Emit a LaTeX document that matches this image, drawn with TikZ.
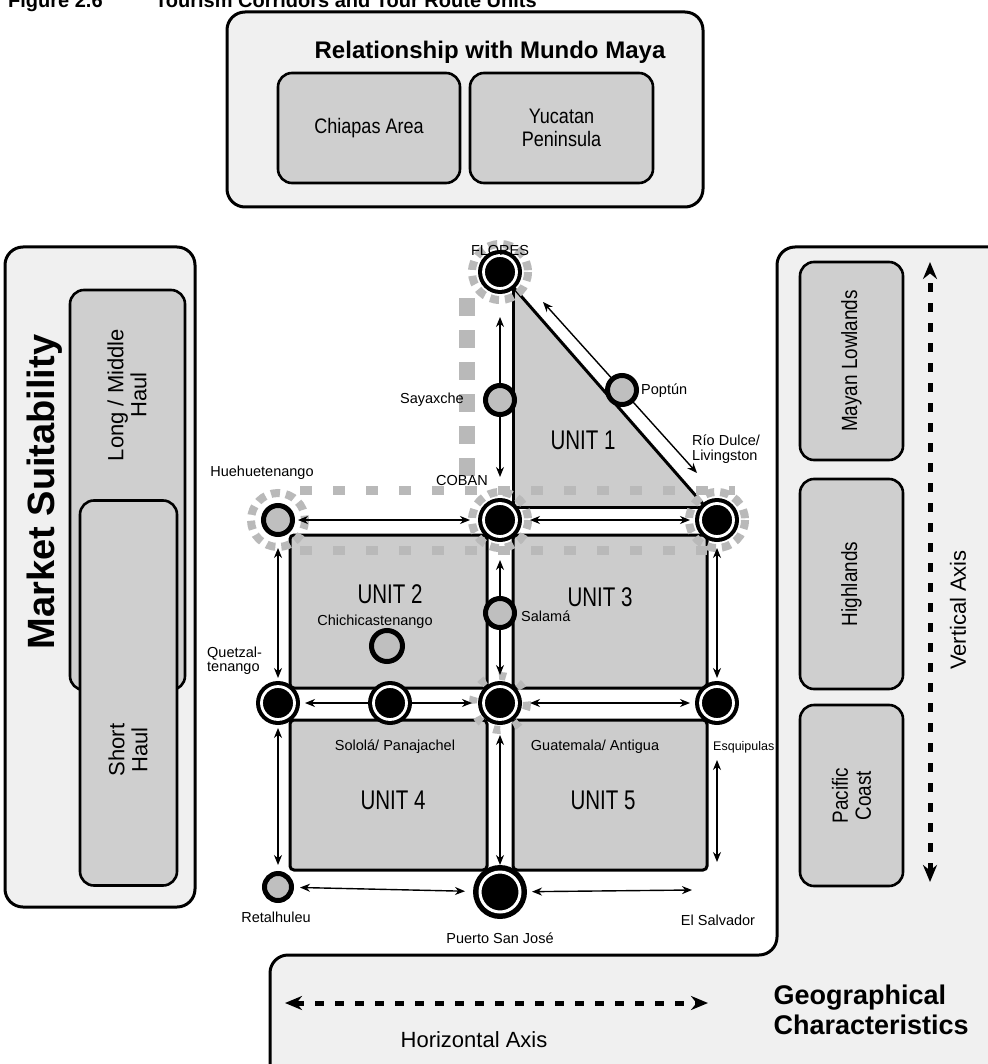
\documentclass[tikz,border=0pt]{standalone}
\usepackage{fontspec}
\setmainfont{Liberation Sans}[FakeStretch=0.86]
\newfontfamily\plainsans{Liberation Sans}
\newfontfamily\unitsans{Liberation Sans}[FakeStretch=0.76]
\usetikzlibrary{arrows.meta}
\newcommand\fsz[2]{\fontsize{#1}{#2}\selectfont}
\begin{document}
\begin{tikzpicture}[x=1pt,y=-1pt,
 panel/.style={draw=black,line width=3,rounded corners=18,fill=gray!12},
 inbox/.style={draw=black,line width=2.6,rounded corners=14,fill=gray!38,inner sep=0},
 road/.style={line width=1.4,{Stealth[length=10,width=8]}-{Stealth[length=10,width=8]}},
 axisarrow/.style={line width=5,dash pattern=on 9 off 11,{Stealth[length=17,width=14]}-{Stealth[length=17,width=14]}},
 bignode/.style={circle,fill=black,minimum size=44,inner sep=0,
   path picture={\draw[white,line width=2.8] (path picture bounding box.center) circle (16.5);}},
 midnode/.style={circle,fill=gray!50,draw=black,line width=5,minimum size=29,inner sep=0},
 halo/.style={gray!55,line width=8,dash pattern=on 9 off 6},
 sqrow/.style={gray!55,line width=9,dash pattern=on 12 off 21},
 sqcol/.style={gray!55,line width=16,dash pattern=on 18 off 14},
 lbl/.style={font=\plainsans\fsz{14.5}{15},inner sep=1},
 unitlbl/.style={font=\unitsans\fsz{27}{28},inner sep=0},
 bord/.style={line width=3},
]
\useasboundingbox (0,0) rectangle (987,1064);
\fill[white] (0,0) rectangle (987,1064);

% caption (cut at the top, as in the scan)
\node[anchor=base west,font=\plainsans\bfseries\fsz{20}{20},inner sep=0] (fig) at (8,8) {Figure 2.6};
\node[anchor=base west,font=\plainsans\bfseries\fsz{20}{20},inner sep=0] (cap) at (155,8) {Tourism Corridors and Tour Route Units};

% ---- top panel
\node[panel,minimum width=476,minimum height=195] (mundo) at (465,109.5) {};
\node[font=\plainsans\bfseries\fsz{24}{26}] (mundot) at (490,52) {Relationship with Mundo Maya};
\node[inbox,minimum width=182,minimum height=110,font=\fsz{21}{23}] (chia) at (369,128) {Chiapas Area};
\node[inbox,minimum width=183,minimum height=110,align=center,font=\fsz{21}{23}] (yuca) at (561.5,128) {Yucatan\\Peninsula};

% ---- left panel
\node[panel,minimum width=190,minimum height=660] (market) at (100,577) {};
\node[inbox,minimum width=115,minimum height=400] (longh) at (127.5,490) {};
\node[rotate=90,align=center,font=\plainsans\fsz{22}{23}] (longt) at (127,395) {Long / Middle\\Haul};
\node[inbox,minimum width=97,minimum height=385] (shorth) at (128.5,693) {};
\node[rotate=90,align=center,font=\plainsans\fsz{22}{23}] (shortt) at (128,750) {Short\\Haul};
\node[font=\plainsans\bfseries\fsz{38}{40},rotate=90] (markett) at (45,492) {Market Suitability};

% ---- right / bottom L-shaped panel
\path[panel] (1010,247) -- (777,247) -- (777,955) -- (270,955) -- (270,1090) -- (1010,1090) -- cycle;
\node[inbox,minimum width=103,minimum height=198] (mayan) at (851.5,361) {};
\node[rotate=90,font=\fsz{22}{23}] (mayant) at (851.5,361) {Mayan Lowlands};
\node[inbox,minimum width=103,minimum height=210] (highl) at (851.5,584) {};
\node[rotate=90,font=\fsz{22}{23}] (highlt) at (851.5,584) {Highlands};
\node[inbox,minimum width=103,minimum height=181] (pacif) at (851.5,795.5) {};
\node[rotate=90,align=center,font=\fsz{22}{23}] (pacift) at (851.5,795.5) {Pacific\\Coast};
\coordinate (vtop) at (930,262);
\coordinate (vbot) at (930,882);
\draw[axisarrow] (vbot) -- (vtop);
\node[rotate=90,font=\plainsans\fsz{22}{23}] (vaxis) at (958,610) {Vertical Axis};
\coordinate (hleft) at (285,1003);
\coordinate (hright) at (708,1003);
\draw[axisarrow] (hleft) -- (hright);
\node[font=\plainsans\fsz{22}{23}] (haxis) at (474,1040) {Horizontal Axis};
\node[anchor=west,align=left,font=\plainsans\bfseries\fsz{27}{30}] (geo) at (770,1010) {Geographical\\Characteristics};

% ---- places
\coordinate (flo) at (500,272);
\coordinate (say) at (500,400);
\coordinate (pop) at (622,390);
\coordinate (rio) at (717,520);
\coordinate (cob) at (500,520);
\coordinate (hue) at (278,520);
\coordinate (sal) at (500,613);
\coordinate (chi) at (387,646);
\coordinate (que) at (278,703);
\coordinate (sol) at (390,703);
\coordinate (gua) at (500,703);
\coordinate (esq) at (717,703);
\coordinate (ret) at (278,887);
\coordinate (pue) at (500,892);

% ---- units
\fill[gray!40,rounded corners=4] (290,535) rectangle (707,870);
\fill[white] (487,535) rectangle (513,890);
\fill[white] (278,688) rectangle (717,720);
\fill[white] (500,507) rectangle (717,535);
\draw[bord,rounded corners=4] (487,688) -- (290,688) -- (290,535) -- (487,535) -- cycle;
\draw[bord,rounded corners=4] (513,688) -- (707,688) -- (707,535) -- (513,535) -- cycle;
\draw[bord,rounded corners=4] (487,720) -- (290,720) -- (290,870) -- (487,870) -- cycle;
\draw[bord,rounded corners=4] (513,720) -- (707,720) -- (707,870) -- (513,870) -- cycle;
\draw[bord] (278,688) -- (290,688) (278,720) -- (290,720) (707,688) -- (717,688) (707,720) -- (717,720);
\draw[bord] (707,535) -- (717,535) (487,870) -- (487,890) (513,870) -- (513,890);
% unit 1 triangle
\fill[gray!40] (513,287) -- (513,507) -- (705.6,507) -- cycle;
\draw[bord] (513,507) -- (717,507);
\draw[bord] (513,287) -- (513,507);
\draw[bord] (flo) -- (rio);

% ---- grey dashed borders
\draw[sqrow] (300,490) -- (735,490);
\draw[sqrow] (300,550) -- (707,550);
\draw[sqcol] (467,298) -- (467,482);
\draw[halo] (flo) circle (28);
\draw[halo] (hue) circle (27);
\draw[halo] (cob) circle (28);
\draw[halo] (rio) circle (28);
\draw[halo,dash pattern=on 7 off 14] (gua) circle (27);

% ---- corridors
\draw[road,shorten <=45,shorten >=43] (flo) -- (cob);
\coordinate (dA) at (543,302);
\coordinate (dB) at (697,473);
\draw[road] (dA) -- (dB);
\draw[road,shorten <=20,shorten >=30] (hue) -- (cob);
\draw[road,shorten <=30,shorten >=27] (cob) -- (rio);
\draw[road,shorten <=40,shorten >=28] (cob) -- (gua);
\draw[road,shorten <=32,shorten >=27] (gua) -- (pue);
\draw[road,shorten <=28,shorten >=25] (hue) -- (que);
\draw[road,shorten <=25,shorten >=22] (que) -- (ret);
\draw[road,shorten <=28,shorten >=25] (rio) -- (esq);
\coordinate (esqs) at (717,862);
\draw[road,shorten <=57] (esq) -- (esqs);
\draw[road,shorten <=27,shorten >=28] (que) -- (gua);
\draw[road,shorten <=30,shorten >=27] (gua) -- (esq);
\draw[road,shorten <=22,shorten >=35] (ret) -- (pue);
\coordinate (els) at (692,890);
\draw[road,shorten <=32] (pue) -- (els);

% ---- place nodes
\node[bignode] (nflo) at (flo) {};
\node[midnode] (nsay) at (say) {};
\node[midnode] (npop) at (pop) {};
\node[bignode] (nrio) at (rio) {};
\node[bignode] (ncob) at (cob) {};
\node[midnode] (nhue) at (hue) {};
\node[midnode] (nsal) at (sal) {};
\node[midnode,minimum size=31] (nchi) at (chi) {};
\node[bignode] (nque) at (que) {};
\node[bignode] (nsol) at (sol) {};
\node[bignode] (ngua) at (gua) {};
\node[bignode] (nesq) at (esq) {};
\node[midnode,minimum size=27] (nret) at (ret) {};
\node[bignode,minimum size=54,path picture={\draw[white,line width=3] (path picture bounding box.center) circle (20);}] (npue) at (pue) {};

% ---- place labels
\node[lbl] (lflo) at (500,251) {FLORES};
\node[lbl,anchor=east] (lsay) at (465,400) {Sayaxche};
\node[lbl,anchor=west] (lpop) at (640,391) {Poptún};
\node[lbl,anchor=west,align=left,font=\plainsans\fsz{14.5}{15}] (lrio) at (691,449) {Río Dulce/\\Livingston};
\node[lbl] (lcob) at (462,481) {COBAN};
\node[lbl] (lhue) at (262,473) {Huehuetenango};
\node[lbl,anchor=west] (lsal) at (520,616) {Salamá};
\node[lbl] (lchi) at (375,622) {Chichicastenango};
\node[lbl,anchor=west,align=left,font=\plainsans\fsz{14.5}{14}] (lque) at (206,661) {Quetzal-\\tenango};
\node[lbl] (lsol) at (395,747) {Sololá/ Panajachel};
\node[lbl] (lgua) at (595,747) {Guatemala/ Antigua};
\node[lbl,anchor=west,font=\plainsans\fsz{12.5}{13}] (lesq) at (712,747) {Esquipulas};
\node[lbl] (lret) at (276,917) {Retalhuleu};
\node[lbl] (lpue) at (500,938) {Puerto San José};
\node[lbl] (lels) at (718,920) {El Salvador};

\node[unitlbl] (u1) at (583,440) {UNIT 1};
\node[unitlbl] (u2) at (390,594) {UNIT 2};
\node[unitlbl] (u3) at (600,597) {UNIT 3};
\node[unitlbl] (u4) at (393,800) {UNIT 4};
\node[unitlbl] (u5) at (603,800) {UNIT 5};
\end{tikzpicture}
\end{document}
